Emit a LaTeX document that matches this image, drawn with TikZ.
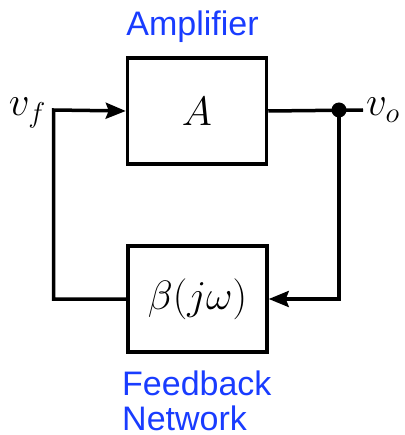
\RequirePackage{fix-cm}
\documentclass[tikz,border=0pt]{standalone}
\usepackage{fontspec}
\setmainfont{Liberation Sans}
\usetikzlibrary{arrows.meta}
\definecolor{loopblue}{RGB}{25,60,255}

\begin{document}
\begin{tikzpicture}[x=1pt,y=-1pt,
    block/.style={draw,line width=3.5pt,minimum width=139pt,minimum height=106pt,
      inner sep=0pt,font=\fontsize{41}{48}\selectfont},
    caption/.style={text=loopblue,inner sep=0pt,font=\fontsize{34}{35.5}\selectfont},
    wire/.style={line width=3.5pt},
    feed/.style={wire,-{Stealth[length=20pt,width=16pt,inset=3pt]}}]
    \useasboundingbox (0,0) rectangle (404,435);
    \node[block] (amp) at (197,111) {$A$};
    \node[block] (fb) at (197.5,299) {$\beta(j\omega)$};
    \node[caption,anchor=base] (amplabel) at (192.5,36) {Amplifier};
    \node[caption,anchor=base west,align=left] (fblabel) at (122,430.5)
      {Feedback\\Network};
    \node[anchor=base east,inner sep=0pt,font=\fontsize{41}{48}\selectfont]
      (vflabel) at (46,116) {$v_f$};
    \node[anchor=base west,inner sep=0pt,font=\fontsize{41}{48}\selectfont]
      (volabel) at (366,116) {$v_o$};
    \coordinate (vf) at (53.5,110);
    \coordinate (tap) at (339,110);
    \coordinate (vo) at (363,110);
    \draw[feed] (fb.west) -| (vf) -- (amp.west);
    \draw[wire] (amp.east) -- (vo);
    \draw[feed] (tap) |- (fb.east);
    \fill (tap) circle (7.5);
\end{tikzpicture}
\end{document}
